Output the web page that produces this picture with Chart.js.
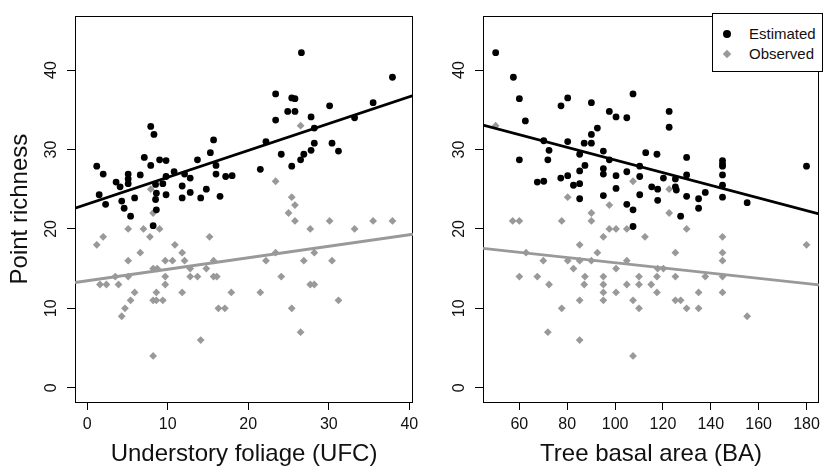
<!DOCTYPE html>
<html>
<head>
<meta charset="utf-8">
<script src="https://cdn.jsdelivr.net/npm/chart.js@4.4.1/dist/chart.umd.min.js"></script>
<style>
html,body{margin:0;padding:0;background:#fff;}
#wrap{position:relative;width:825px;height:470px;overflow:hidden;background:#fff;}
#wrap canvas{position:absolute;left:0;top:0;}
#legend{position:absolute;left:712px;top:13px;width:111px;height:59px;border:1px solid #000;box-sizing:border-box;background:#fff;z-index:5;font-family:"Liberation Sans",Arial,sans-serif;font-size:15px;color:#111;}
#legend .item{position:absolute;left:0;width:100%;height:18px;}
#legend .mk{position:absolute;}
#legend .tx{position:absolute;left:36px;top:0;line-height:18px;white-space:nowrap;}
</style>
</head>
<body>
<div id="wrap">
  <canvas id="left" width="825" height="470"></canvas>
  <canvas id="right" width="825" height="470"></canvas>
  <div id="legend"></div>
</div>
<script>
// ---------- data ----------
const seriesNames = ['Estimated', 'Observed'];
const yTickValues = [0, 10, 20, 30, 40];
const ufcTickValues = [0, 10, 20, 30, 40];
const baTickValues = [60, 80, 100, 120, 140, 160, 180];
const xTitleLeft = 'Understory foliage (UFC)';
const xTitleRight = 'Tree basal area (BA)';
const yTitle = 'Point richness';

// Left panel: understory foliage
const ufcEstX = [7.9,8.3,15.7,15.3,7.1,9.0,9.8,13.7,1.2,7.9, 16.0,2.0,5.1,6.6,10.8,12.1,12.8,16.0,17.2,18.0,
  3.6,5.1,5.1,4.1,9.8,8.5,9.4,11.8,12.8,14.8, 16.5,1.5,5.9,8.5,9.8,11.8,14.1,4.3,2.3,4.6,
  5.4,8.6,8.6,8.2,26.6,37.9,23.4,25.4,25.8,24.9, 25.8,30.1,35.5,27.8,33.2,23.4,28.2,22.2,30.4,28.2,
  27.8,31.2,24.1,26.9,26.5,25.4,21.5];
const ufcEstY = [32.9,31.9,31.2,29.6,29.0,28.7,28.6,28.7,27.9,28.0, 28.0,26.9,26.9,26.8,27.2,26.9,26.4,26.9,26.6,26.7,
  25.9,26.3,25.7,25.3,26.6,25.6,25.7,25.4,24.6,25.0, 24.1,24.3,23.9,23.7,24.3,23.9,23.9,23.5,23.1,22.6,
  21.6,24.5,22.4,20.4,42.2,39.1,37.0,36.5,36.4,34.8, 34.8,35.5,35.9,34.1,34.0,33.7,32.7,31.0,30.8,30.8,
  29.9,29.8,29.4,29.4,28.7,27.9,27.5];
const ufcObsX = [7.9,8.2,1.2,2.0,5.1,7.0,9.0,7.8,10.9,11.8, 6.6,15.2,5.1,9.7,10.6,12.1,15.7,8.2,8.7,12.8,
  14.8,3.5,5.1,9.7,12.8,13.7,15.7,16.1,1.6,2.4, 3.9,9.7,5.9,8.6,11.8,17.9,5.4,8.2,8.6,9.4,
  4.7,16.3,17.1,4.3,14.1,8.2,26.5,23.4,25.4,25.8, 25.0,25.8,27.7,30.1,33.2,35.5,37.9,23.4,22.2,26.9,
  28.2,30.4,24.1,27.7,28.2,21.5,31.2,25.4,26.5];
const ufcObsY = [25,22,18,19,20,20,20,19,18,17, 17,19,16,16,16,16,16,15,15,15,
  15,14,14,14,14,14,14,14,13,13, 13,13,12,12,12,12,11,11,11,11,
  10,10,10,9,6,4,33,26,24,23, 22,21,20,21,20,21,21,17,16,16,
  17,16,14,13,13,12,11,10,7];
const ufcFitX = [-1.5, 40.45];
const ufcEstFit = [22.6, 36.8];
const ufcObsFit = [13.25, 19.33];

// Right panel: tree basal area
const baEstX = [50.1,57.5,60,62.5,60,77.4,80.2,90.1,97.6,100.4, 104.9,92.6,90.1,70.2,80.2,72.4,87.1,90.1,95.1,85.2,
  97.6,71.9,87.4,85.2,95.1,95.1,100.4,104.9,77.3,80.2, 67.5,70.2,82.6,85.2,100.4,95.1,85.2,107.5,122.6,122.6,
  112.8,117.5,129.9,110.3,144.9,144.9,144.9,180,110.3,120.2, 125.2,129.9,144.9,115.3,117.8,125.2,125.6,137.7,144.9,129.9,
  134.9,110.3,144.9,117.8,155.2,104.9,107.5,107.5,134.9,127.4];
const baEstY = [42.2,39.1,36.4,33.6,28.7,35.5,36.5,35.9,34.8,34.1, 34.0,32.7,31.9,31.1,31.0,29.9,30.8,30.8,29.8,29.4,
  28.7,28.7,28.0,27.3,27.6,26.9,26.7,27.2,26.4,26.7, 25.9,26.0,25.5,25.7,25.1,24.2,23.8,37.0,34.8,32.8,
  29.6,29.4,29.0,27.9,28.6,28.2,27.9,27.9,26.6,26.4, 26.3,26.8,26.8,25.3,25.0,25.3,24.9,24.6,25.5,24.1,
  23.8,24.3,24.0,23.6,23.3,23.1,22.4,20.3,22.6,21.6];
const baObsX = [50.1,80.2,107.5,122.6,57.2,60,62.8,60,67.5,70, 72.4,71.9,77.7,77.7,80.2,82.6,85.2,85.2,85.2,85.2,
  87.4,87.1,90.1,90.1,90.1,92.6,95.1,95.1,95.1,95.1, 95.1,97.6,97.6,100.4,100.4,100.4,104.9,104.9,104.9,122.6,
  129.9,112.5,144.9,180,125.2,144.9,144.9,117.8,120.2,144.9, 137.7,125.2,110,117.5,110,115.1,117.5,134.9,144.9,107.5,
  125.2,127.4,110,129.9,134.9,155.2,107.5];
const baObsY = [33,24,26,25,21,21,17,14,14,16, 13,7,10,21,16,15,18,16,11,6,
  14,13,22,21,16,17,19,14,13,12, 11,23,20,20,15,12,20,16,13,22,
  20,19,19,18,17,17,16,15,15,14, 14,14,14,14,13,13,12,12,12,11,
  11,11,10,10,10,9,4];
const baFitX = [44.8, 185.2];
const baEstFit = [33.08, 21.9];
const baObsFit = [17.54, 12.94];

// ---------- styling ----------
const FONT = '"Liberation Sans", Arial, Helvetica, sans-serif';
const TXT = '#111';
const BLACK = '#000';
const GRAY = '#999';

const pts = (xs, ys) => xs.map((x, i) => ({ x: x, y: ys[i] }));

const framePlugin = {
  id: 'frame',
  beforeDatasetsDraw(chart) {
    const a = chart.chartArea, ctx = chart.ctx;
    ctx.save();
    ctx.strokeStyle = '#000';
    ctx.lineWidth = 1;
    ctx.strokeRect(Math.round(a.left) + 0.5, Math.round(a.top) + 0.5,
      Math.round(a.right - a.left) - 1, Math.round(a.bottom - a.top));
    ctx.restore();
  }
};

function xScale(min, max, tickVals, title) {
  return {
    type: 'linear', min: min, max: max,
    afterBuildTicks: s => { s.ticks = tickVals.map(v => ({ value: v })); },
    afterFit: s => { s.height = 68; },
    grid: { drawOnChartArea: false, drawTicks: true, tickLength: 8, color: '#000', lineWidth: 1 },
    border: { display: false },
    ticks: { font: { family: FONT, size: 16 }, color: TXT, padding: 5, autoSkip: false, maxRotation: 0, minRotation: 0 },
    title: { display: true, text: title, color: TXT, font: { family: FONT, size: 24, lineHeight: 1 }, padding: { top: 0, bottom: 4 } }
  };
}
function yScale(width, title) {
  return {
    type: 'linear', min: -1.8, max: 46.8,
    afterBuildTicks: s => { s.ticks = yTickValues.map(v => ({ value: v })); },
    afterFit: s => { s.width = width; },
    grid: { drawOnChartArea: false, drawTicks: true, tickLength: 8, color: '#000', lineWidth: 1 },
    border: { display: false },
    ticks: { font: { family: FONT, size: 16 }, color: TXT, padding: 6.5, autoSkip: false,
      minRotation: 90, maxRotation: 90, crossAlign: 'center' },
    title: title ? { display: true, text: title, color: TXT, font: { family: FONT, size: 24, lineHeight: 1 }, padding: { top: 8, bottom: 0 } }
                 : { display: false }
  };
}

function datasets(estX, estY, obsX, obsY, fitX, estFit, obsFit) {
  return [
    { type: 'line', label: '', data: pts(fitX, estFit), borderColor: BLACK, borderWidth: 2.8,
      pointRadius: 0, fill: false, showLine: true, order: 0 },
    { type: 'line', label: '', data: pts(fitX, obsFit), borderColor: GRAY, borderWidth: 2.8,
      pointRadius: 0, fill: false, showLine: true, order: 0 },
    { type: 'scatter', label: seriesNames[1], data: pts(obsX, obsY), pointStyle: 'rectRot',
      pointRadius: 3.9, backgroundColor: GRAY, borderWidth: 0, pointBorderWidth: 0, order: 2 },
    { type: 'scatter', label: seriesNames[0], data: pts(estX, estY), pointStyle: 'circle',
      pointRadius: 3.4, backgroundColor: BLACK, borderWidth: 0, pointBorderWidth: 0, order: 1 }
  ];
}

function makeChart(id, padding, xs, ys, ds) {
  return new Chart(document.getElementById(id), {
    type: 'scatter',
    data: { datasets: ds },
    options: {
      responsive: false, animation: false, events: [],
      layout: { padding: padding },
      plugins: { legend: { display: false }, tooltip: { enabled: false } },
      scales: { x: xs, y: ys }
    },
    plugins: [framePlugin]
  });
}

makeChart('left', { left: 0, top: 13, right: 412, bottom: 0 },
  xScale(ufcFitX[0], ufcFitX[1], ufcTickValues, xTitleLeft), yScale(75, yTitle),
  datasets(ufcEstX, ufcEstY, ufcObsX, ufcObsY, ufcFitX, ufcEstFit, ufcObsFit));

const rightChart = makeChart('right', { left: 440, top: 13, right: 3, bottom: 0 },
  xScale(baFitX[0], baFitX[1], baTickValues, xTitleRight), yScale(43, null),
  datasets(baEstX, baEstY, baObsX, baObsY, baFitX, baEstFit, baObsFit));

// HTML legend built from the chart's own scatter datasets
(function buildLegend() {
  const box = document.getElementById('legend');
  const items = rightChart.data.datasets.filter(d => d.type === 'scatter')
    .sort((a, b) => seriesNames.indexOf(a.label) - seriesNames.indexOf(b.label));
  items.forEach((d, i) => {
    const row = document.createElement('div');
    row.className = 'item';
    row.style.top = (i === 0 ? 10.5 : 31) + 'px';
    const mk = document.createElement('div');
    mk.className = 'mk';
    if (d.pointStyle === 'circle') {
      mk.style.cssText = 'left:10px;top:5px;width:8px;height:8px;border-radius:50%;background:' + d.backgroundColor;
    } else {
      mk.style.cssText = 'left:11px;top:6px;width:6px;height:6px;transform:rotate(45deg);background:' + d.backgroundColor;
    }
    const tx = document.createElement('div');
    tx.className = 'tx';
    tx.textContent = d.label;
    row.appendChild(mk); row.appendChild(tx);
    box.appendChild(row);
  });
})();
</script>
</body>
</html>
